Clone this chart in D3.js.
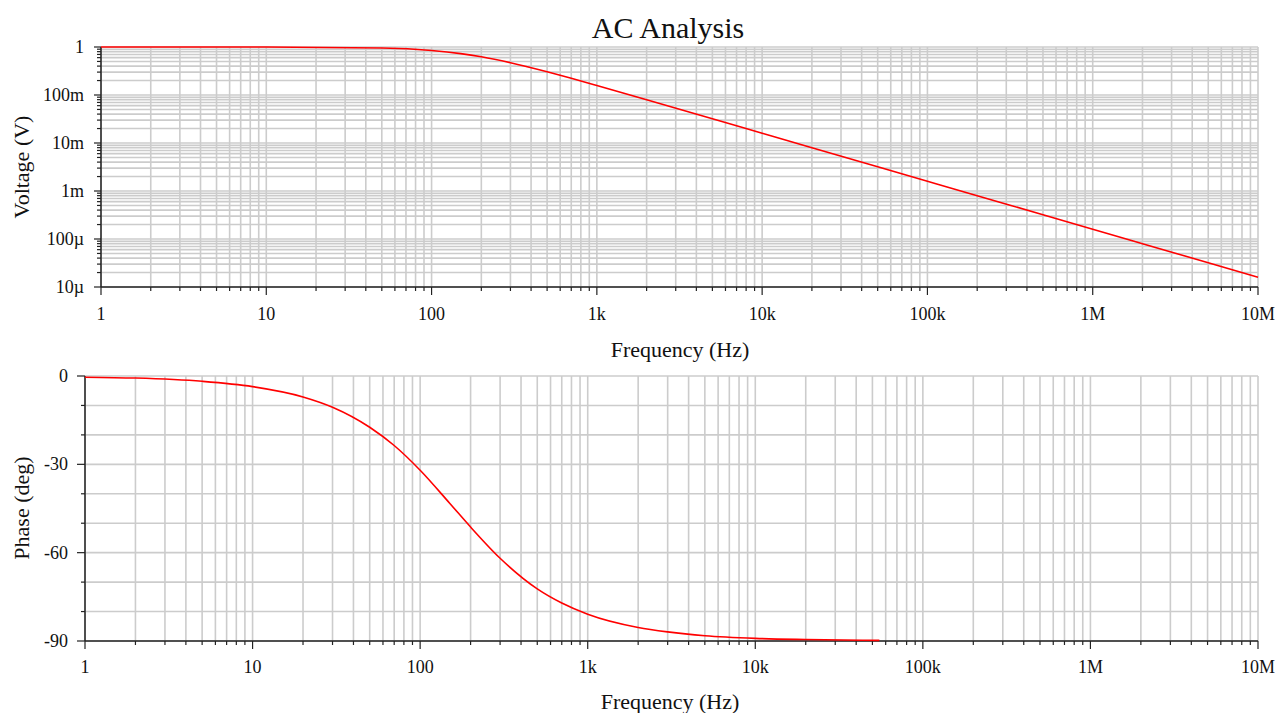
<!DOCTYPE html>
<html><head><meta charset="utf-8">
<script src="https://cdn.jsdelivr.net/npm/d3@7"></script>
<style>
body{margin:0;background:#fff;}
text{font-family:"Liberation Serif","Times New Roman",serif;fill:#111;}
</style></head>
<body><svg id="c" width="1279" height="713"></svg>
<script>
const magFreq = [1, 10, 50, 100, 150, 200, 300, 500, 700, 1000, 2000, 5000, 1e4, 2e4, 5e4, 1e5, 2e5, 5e5, 1e6, 2e6, 5e6, 1e7];
const magVolt = [1, 0.998, 0.954, 0.848, 0.729, 0.625, 0.471, 0.305, 0.223, 0.158, 0.0797, 0.032, 0.016, 0.008, 0.0032, 0.0016, 0.0008, 0.00032, 0.00016, 0.00008, 0.000032, 0.000016];
const phFreq = [1, 2, 5, 10, 20, 30, 50, 70, 100, 150, 200, 300, 500, 700, 1000, 2000, 3000, 5000, 1e4, 2e4, 55000];
const phDeg = [-0.4, -0.7, -1.8, -3.6, -7.1, -10.6, -17.4, -23.6, -32.0, -43.2, -51.3, -61.9, -72.3, -77.1, -80.9, -85.4, -86.9, -88.2, -89.1, -89.5, -89.8];
const freqTicks = [1, 10, 100, 1e3, 1e4, 1e5, 1e6, 1e7];
const freqTickLabels = ["1", "10", "100", "1k", "10k", "100k", "1M", "10M"];
const voltTicks = [1, 0.1, 0.01, 0.001, 1e-4, 1e-5];
const voltTickLabels = ["1", "100m", "10m", "1m", "100\u00b5", "10\u00b5"];
const phaseTicks = [0, -30, -60, -90];
const phaseTickLabels = ["0", "-30", "-60", "-90"];

const svg = d3.select("#c");
const grid = "#cccccc";

function minorLog(lo, hi) {
  const out = [];
  for (let e = Math.round(Math.log10(lo)); e < Math.round(Math.log10(hi)); e++) {
    for (let k = 1; k <= 9; k++) out.push(k * Math.pow(10, e));
  }
  out.push(hi);
  return out;
}
const isMajor = (arr, d) => arr.some(v => Math.abs(v - d) / Math.abs(v || 1) < 1e-6);

// ---------- Top plot ----------
const T = {l: 101, r: 1258, t: 47, b: 287};
const xT = d3.scaleLog().domain([1, 1e7]).range([T.l, T.r]);
const yT = d3.scaleLog().domain([1e-5, 1]).range([T.b, T.t]);
const gT = svg.append("g");
const fMinor = minorLog(1, 1e7);
const vMinor = minorLog(1e-5, 1);
gT.selectAll("line.vx").data(fMinor).join("line")
  .attr("x1", d => xT(d)).attr("x2", d => xT(d)).attr("y1", T.t).attr("y2", T.b)
  .attr("stroke", grid).attr("stroke-width", 1.6);
gT.selectAll("line.hy").data(vMinor).join("line")
  .attr("x1", T.l).attr("x2", T.r).attr("y1", d => yT(d)).attr("y2", d => yT(d))
  .attr("stroke", grid).attr("stroke-width", 1.6);
gT.append("line").attr("x1", T.l).attr("x2", T.l).attr("y1", T.t).attr("y2", T.b).attr("stroke", "#222").attr("stroke-width", 1.5);
gT.selectAll("line.yt").data(vMinor).join("line")
  .attr("x1", d => isMajor(voltTicks, d) ? T.l - 7 : T.l - 4)
  .attr("x2", T.l).attr("y1", d => yT(d)).attr("y2", d => yT(d)).attr("stroke", "#222").attr("stroke-width", 1.2);
gT.selectAll("text.yl").data(voltTicks).join("text")
  .attr("x", T.l - 17).attr("y", d => yT(d) + 6).attr("text-anchor", "end")
  .attr("font-size", 18).text((d, i) => voltTickLabels[i]);
gT.append("line").attr("x1", T.l).attr("x2", T.r).attr("y1", T.b).attr("y2", T.b).attr("stroke", "#222").attr("stroke-width", 1.5);
gT.selectAll("line.xt").data(fMinor).join("line")
  .attr("x1", d => xT(d)).attr("x2", d => xT(d)).attr("y1", T.b)
  .attr("y2", d => isMajor(freqTicks, d) ? T.b + 8 : T.b + 4)
  .attr("stroke", "#222").attr("stroke-width", 1.2);
gT.selectAll("text.xl").data(freqTicks).join("text")
  .attr("x", d => xT(d)).attr("y", T.b + 33).attr("text-anchor", "middle")
  .attr("font-size", 18).text((d, i) => freqTickLabels[i]);
gT.append("path").datum(magFreq.map((f, i) => [f, magVolt[i]]))
  .attr("d", d3.line().x(d => xT(d[0])).y(d => yT(d[1])).curve(d3.curveMonotoneX))
  .attr("fill", "none").attr("stroke", "#ff0000").attr("stroke-width", 1.6);
svg.append("text").attr("x", 668).attr("y", 38).attr("text-anchor", "middle").attr("font-size", 30).text("AC Analysis");
svg.append("text").attr("x", 680).attr("y", 357).attr("text-anchor", "middle").attr("font-size", 22).text("Frequency (Hz)");
svg.append("text").attr("transform", "translate(29,167) rotate(-90)").attr("text-anchor", "middle").attr("font-size", 22).text("Voltage (V)");

// ---------- Bottom plot ----------
const B = {l: 85, r: 1258, t: 376, b: 641};
const xB = d3.scaleLog().domain([1, 1e7]).range([B.l, B.r]);
const yB = d3.scaleLinear().domain([-90, 0]).range([B.b, B.t]);
const gB = svg.append("g");
const pMinor = d3.range(-90, 1, 10);
gB.selectAll("line.vx").data(fMinor).join("line")
  .attr("x1", d => xB(d)).attr("x2", d => xB(d)).attr("y1", B.t).attr("y2", B.b)
  .attr("stroke", grid).attr("stroke-width", 1.6);
gB.selectAll("line.hy").data(pMinor).join("line")
  .attr("x1", B.l).attr("x2", B.r).attr("y1", d => yB(d)).attr("y2", d => yB(d))
  .attr("stroke", grid).attr("stroke-width", 1.6);
gB.append("line").attr("x1", B.l).attr("x2", B.l).attr("y1", B.t).attr("y2", B.b).attr("stroke", "#222").attr("stroke-width", 1.5);
gB.selectAll("line.yt").data(pMinor).join("line")
  .attr("x1", d => phaseTicks.includes(d) ? B.l - 8 : B.l - 4).attr("x2", B.l)
  .attr("y1", d => yB(d)).attr("y2", d => yB(d)).attr("stroke", "#222").attr("stroke-width", 1.2);
gB.selectAll("text.yl").data(phaseTicks).join("text")
  .attr("x", B.l - 17).attr("y", d => yB(d) + 6).attr("text-anchor", "end")
  .attr("font-size", 18).text((d, i) => phaseTickLabels[i]);
gB.append("line").attr("x1", B.l).attr("x2", B.r).attr("y1", B.b).attr("y2", B.b).attr("stroke", "#222").attr("stroke-width", 1.5);
gB.selectAll("line.xt").data(fMinor).join("line")
  .attr("x1", d => xB(d)).attr("x2", d => xB(d)).attr("y1", B.b)
  .attr("y2", d => isMajor(freqTicks, d) ? B.b + 8 : B.b + 4)
  .attr("stroke", "#222").attr("stroke-width", 1.2);
gB.selectAll("text.xl").data(freqTicks).join("text")
  .attr("x", d => xB(d)).attr("y", B.b + 32).attr("text-anchor", "middle")
  .attr("font-size", 18).text((d, i) => freqTickLabels[i]);
gB.append("path").datum(phFreq.map((f, i) => [f, phDeg[i]]))
  .attr("d", d3.line().x(d => xB(d[0])).y(d => yB(d[1])).curve(d3.curveMonotoneX))
  .attr("fill", "none").attr("stroke", "#ff0000").attr("stroke-width", 1.6);
svg.append("text").attr("x", 670).attr("y", 709).attr("text-anchor", "middle").attr("font-size", 22).text("Frequency (Hz)");
svg.append("text").attr("transform", "translate(29,508) rotate(-90)").attr("text-anchor", "middle").attr("font-size", 22).text("Phase (deg)");
</script></body></html>
